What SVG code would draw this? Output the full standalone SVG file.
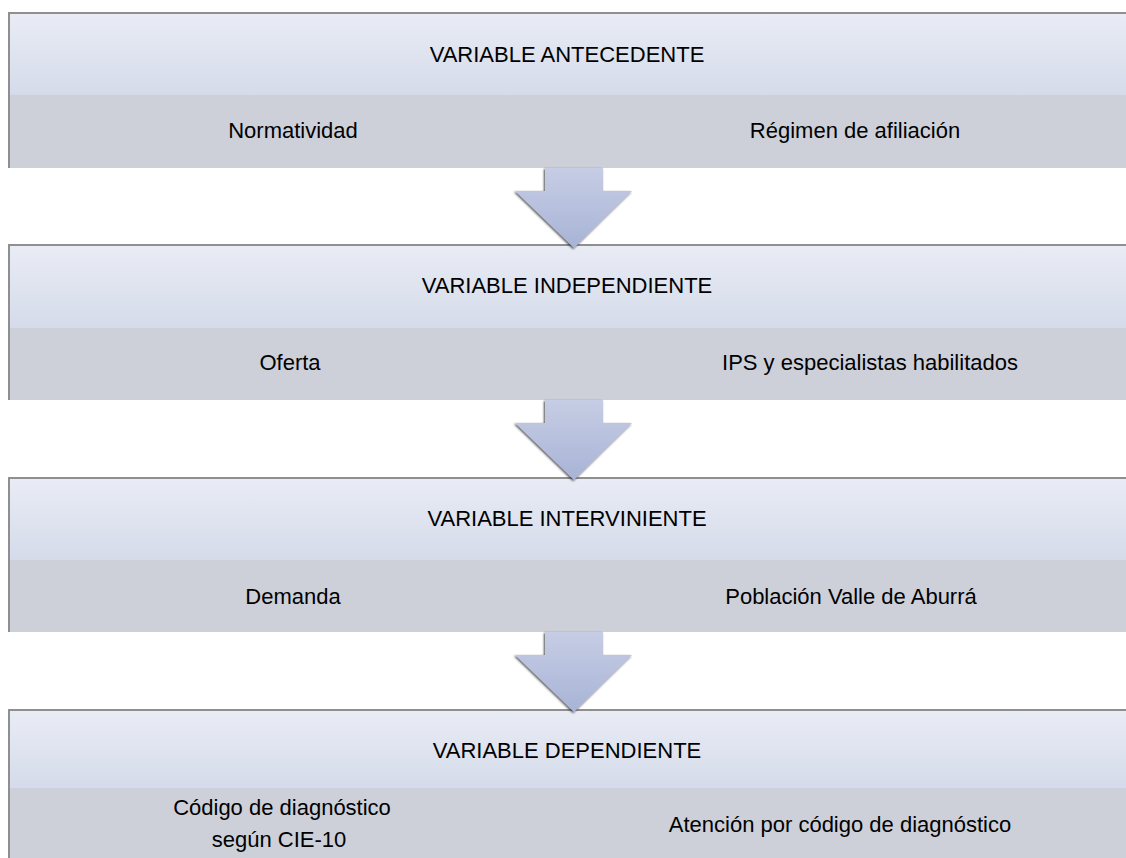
<svg xmlns="http://www.w3.org/2000/svg" width="1126" height="858" viewBox="0 0 1126 858">
<style>
.hdr{font-family:"Liberation Sans",Arial,sans-serif;font-size:22px;fill:#000;text-anchor:middle}
.sub{font-family:"Liberation Sans",Arial,sans-serif;font-size:22px;fill:#000;text-anchor:middle}
.edge{stroke:#8f8f8f;stroke-width:2;fill:none}
</style>
<defs>
<linearGradient id="top" x1="0" y1="0" x2="0" y2="1"><stop offset="0" stop-color="#e9ecf5"/><stop offset="1" stop-color="#d5dbea"/></linearGradient>
<linearGradient id="arr" x1="0" y1="0" x2="0" y2="1"><stop offset="0" stop-color="#c6cde4"/><stop offset="1" stop-color="#a8b3d6"/></linearGradient>
<filter id="sh" x="-20%" y="-20%" width="140%" height="140%"><feDropShadow dx="-1" dy="1" stdDeviation="1" flood-color="#222" flood-opacity="0.8"/></filter>
</defs>
<rect width="1126" height="858" fill="#fff"/>
<g id="node1">
<rect x="8" y="13" width="1118" height="82" fill="url(#top)"/>
<rect x="8" y="95" width="1118" height="73" fill="#cdd0d9"/>
<path class="edge" d="M9 168 V13 H1126"/>
<text class="hdr" x="567" y="62">VARIABLE ANTECEDENTE</text>
<text class="sub" x="293" y="138">Normatividad</text>
<text class="sub" x="855" y="138">Régimen de afiliación</text>
</g>
<g id="node2">
<rect x="8" y="245" width="1118" height="83" fill="url(#top)"/>
<rect x="8" y="328" width="1118" height="72" fill="#cdd0d9"/>
<path class="edge" d="M9 400 V245 H1126"/>
<text class="hdr" x="567" y="293">VARIABLE INDEPENDIENTE</text>
<text class="sub" x="290" y="370">Oferta</text>
<text class="sub" x="870" y="370">IPS y especialistas habilitados</text>
</g>
<g id="node3">
<rect x="8" y="478" width="1118" height="82" fill="url(#top)"/>
<rect x="8" y="560" width="1118" height="72" fill="#cdd0d9"/>
<path class="edge" d="M9 632 V478 H1126"/>
<text class="hdr" x="567" y="526">VARIABLE INTERVINIENTE</text>
<text class="sub" x="293" y="604">Demanda</text>
<text class="sub" x="851" y="604">Población  Valle de  Aburrá</text>
</g>
<g id="node4">
<rect x="8" y="710" width="1118" height="78" fill="url(#top)"/>
<rect x="8" y="788" width="1118" height="70" fill="#cdd0d9"/>
<path class="edge" d="M9 858 V710 H1126"/>
<text class="hdr" x="567" y="758">VARIABLE DEPENDIENTE</text>
<text class="sub" x="282" y="815">Código de diagnóstico</text>
<text class="sub" x="279" y="847">según CIE-10</text>
<text class="sub" x="840" y="832">Atención por código de diagnóstico</text>
</g>
<g id="connectors">
<path d="M545 168 H603 V191 H632 L574 248 L515 191 H545 Z" fill="url(#arr)" filter="url(#sh)"/>
<path d="M545 400 H603 V423 H632 L574 480 L515 423 H545 Z" fill="url(#arr)" filter="url(#sh)"/>
<path d="M545 632 H603 V655 H632 L574 712 L515 655 H545 Z" fill="url(#arr)" filter="url(#sh)"/>
</g>
</svg>
